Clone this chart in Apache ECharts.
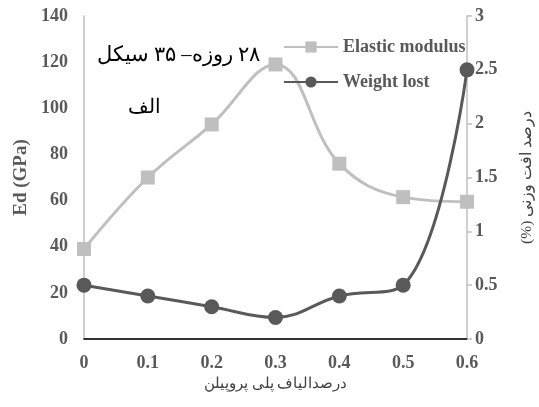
<!DOCTYPE html>
<html>
<head>
<meta charset="utf-8">
<script src="https://cdn.jsdelivr.net/npm/echarts@6/dist/echarts.min.js"></script>
<style>html,body{margin:0;padding:0;background:#fff}#c{width:539px;height:407px}</style>
</head>
<body>
<div id="c"></div>
<script>
var categories = ['0', '0.1', '0.2', '0.3', '0.4', '0.5', '0.6'];
var elasticModulus = [39, 70, 93, 119, 76, 61.5, 59.5];
var weightLost = [0.5, 0.4, 0.3, 0.2, 0.4, 0.5, 2.5];
var seriesNames = ['Elastic modulus', 'Weight lost'];
var leftAxisName = 'Ed (GPa)';
var rightAxisName = '(%) درصد افت وزنی';
var xAxisName = 'درصدالیاف پلی پروپیلن';
var note1 = '\u202B۲۸ روزه– ۳۵ سیکل\u202C';
var note2 = 'الف';

var serif = "'Liberation Serif', 'Times New Roman', serif";
var tickColor = '#595959';
var chart = echarts.init(document.getElementById('c'));
chart.setOption({
  animation: false,
  backgroundColor: '#fff',
  grid: { left: 84, right: 72, top: 16, bottom: 68, outerBoundsMode: 'none', containLabel: false },
  legend: {
    orient: 'vertical', left: 278, top: 33, itemWidth: 54, itemHeight: 14, itemGap: 17,
    data: seriesNames,
    textStyle: { fontFamily: serif, fontWeight: 'bold', fontSize: 18, color: tickColor }
  },
  xAxis: [{
    type: 'category', data: categories, boundaryGap: false,
    axisLine: { lineStyle: { color: '#bfbfbf', width: 1.5 } },
    axisTick: { show: false },
    axisLabel: { margin: 15, fontFamily: serif, fontWeight: 'bold', fontSize: 18, color: tickColor },
    name: xAxisName, nameLocation: 'middle', nameGap: 36,
    nameTextStyle: { fontFamily: serif, fontSize: 15, color: '#404040' }
  }, {
    type: 'category', data: categories, boundaryGap: false, position: 'top',
    axisLine: { lineStyle: { color: '#000', width: 1.5 } },
    axisTick: { show: false }, axisLabel: { show: false }
  }],
  yAxis: [{
    type: 'value', min: 0, max: 140, interval: 20,
    splitLine: { show: false },
    axisLine: { show: true, lineStyle: { color: '#bfbfbf', width: 1.5 } },
    axisTick: { show: false },
    axisLabel: { margin: 16, fontFamily: serif, fontWeight: 'bold', fontSize: 18, color: tickColor },
    name: leftAxisName, nameLocation: 'middle', nameGap: 50, nameRotate: 90,
    nameTextStyle: { fontFamily: serif, fontWeight: 'bold', fontSize: 19, color: tickColor }
  }, {
    type: 'value', min: 0, max: 3, interval: 0.5, position: 'right',
    splitLine: { show: false },
    axisLine: { show: true, lineStyle: { color: '#bfbfbf', width: 1.5 } },
    axisTick: { show: true, length: 5, lineStyle: { color: '#bfbfbf', width: 1.5 } },
    axisLabel: { margin: 8, fontFamily: serif, fontWeight: 'bold', fontSize: 18, color: tickColor },
    name: rightAxisName, nameLocation: 'middle', nameGap: 52, nameRotate: 90,
    nameTextStyle: { fontFamily: serif, fontSize: 15.5, color: '#404040' }
  }],
  series: [{
    name: seriesNames[0], type: 'line', yAxisIndex: 0, data: elasticModulus,
    smooth: 0.4, symbol: 'rect', symbolSize: 14,
    lineStyle: { color: '#bfbfbf', width: 3 }, itemStyle: { color: '#bfbfbf' }
  }, {
    name: seriesNames[1], type: 'line', yAxisIndex: 1, data: weightLost,
    smooth: 0.4, symbol: 'circle', symbolSize: 15,
    lineStyle: { color: '#595959', width: 3 }, itemStyle: { color: '#595959' }
  }],
  graphic: [{
    type: 'text', left: 97, top: 45,
    style: { text: note1, font: "20.5px " + serif, fill: '#000' }
  }, {
    type: 'text', left: 128, top: 98,
    style: { text: note2, font: "20px " + serif, fill: '#000' }
  }]
});
</script>
</body>
</html>
